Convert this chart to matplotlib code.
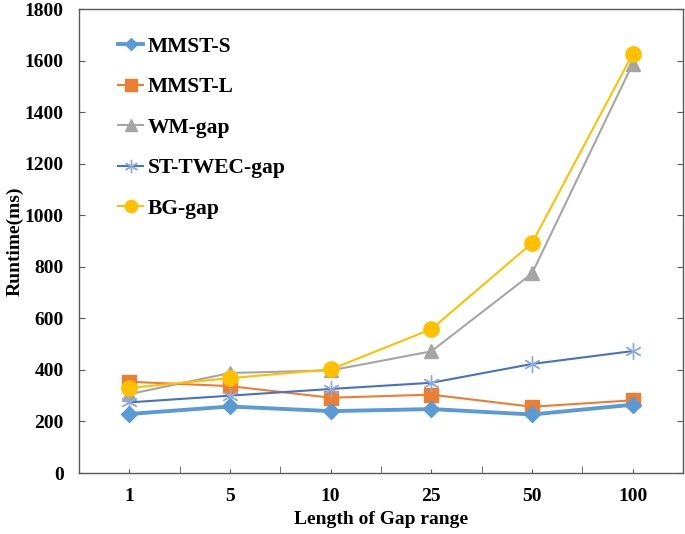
import matplotlib.pyplot as plt
from matplotlib.ticker import FixedLocator

plt.rcParams['font.family'] = ['Liberation Serif', 'DejaVu Serif']
plt.rcParams['font.weight'] = 'bold'

# data
gap_labels = ['1', '5', '10', '25', '50', '100']
mmst_s = [229, 258, 240, 248, 227, 265]
mmst_l = [354, 337, 292, 304, 257, 282]
wm_gap = [306, 388, 398, 472, 774, 1587]
st_twec_gap = [274, 300, 326, 350, 423, 473]
bg_gap = [330, 368, 402, 558, 892, 1625]

x = list(range(len(gap_labels)))

fig = plt.figure(figsize=(6.85, 5.34), dpi=100)
ax = fig.add_axes([79/685, 61/534, 604/685, 464/534])

ax.plot(x, mmst_s, color='#5B9BD5', lw=2.8, marker='D', ms=8, label='MMST-S', zorder=5)
ax.plot(x, mmst_l, color='#ED7D31', lw=1.5, marker='s', ms=10, label='MMST-L', zorder=4)
ax.plot(x, wm_gap, color='#A5A5A5', lw=1.5, marker='^', ms=10, label='WM-gap', zorder=3)
ax.plot(x, st_twec_gap, color='#4472C4', lw=1.5, marker=(6, 2, 0), ms=12, mew=1,
        mec='#8FAADC', label='ST-TWEC-gap', zorder=4)
ax.plot(x, bg_gap, color='#FFC000', lw=1.5, marker='o', ms=11, label='BG-gap', zorder=6)

ax.set_xlim(-0.5, len(x) - 0.5)
ax.set_ylim(0, 1800)
ax.set_yticks(range(0, 1801, 200))
ax.set_xticks(x)
ax.set_xticklabels(gap_labels)
ax.xaxis.set_minor_locator(FixedLocator([i + 0.5 for i in x[:-1]]))

ax.tick_params(axis='x', which='major', direction='in', length=3, pad=11,
               labelsize=14, color='#595959')
ax.tick_params(axis='x', which='minor', direction='in', length=5, color='#595959')
ax.tick_params(axis='y', direction='in', length=4, pad=11, labelsize=14,
               right=True, color='#595959')
for s in ax.spines.values():
    s.set_color('#595959')
    s.set_linewidth(1)

ax.set_xlabel('Length of Gap range', fontsize=14, fontweight='bold', labelpad=4)
ax.set_ylabel('Runtime(ms)', fontsize=14, fontweight='bold', labelpad=1)

leg = ax.legend(loc='upper left', bbox_to_anchor=(0.033, 0.982), frameon=False,
                labelspacing=0.95, handlelength=1.15, handletextpad=0.2,
                markerscale=0.8, prop={'weight': 'bold', 'size': 15.5})

fig.savefig('out.png', dpi=100)
